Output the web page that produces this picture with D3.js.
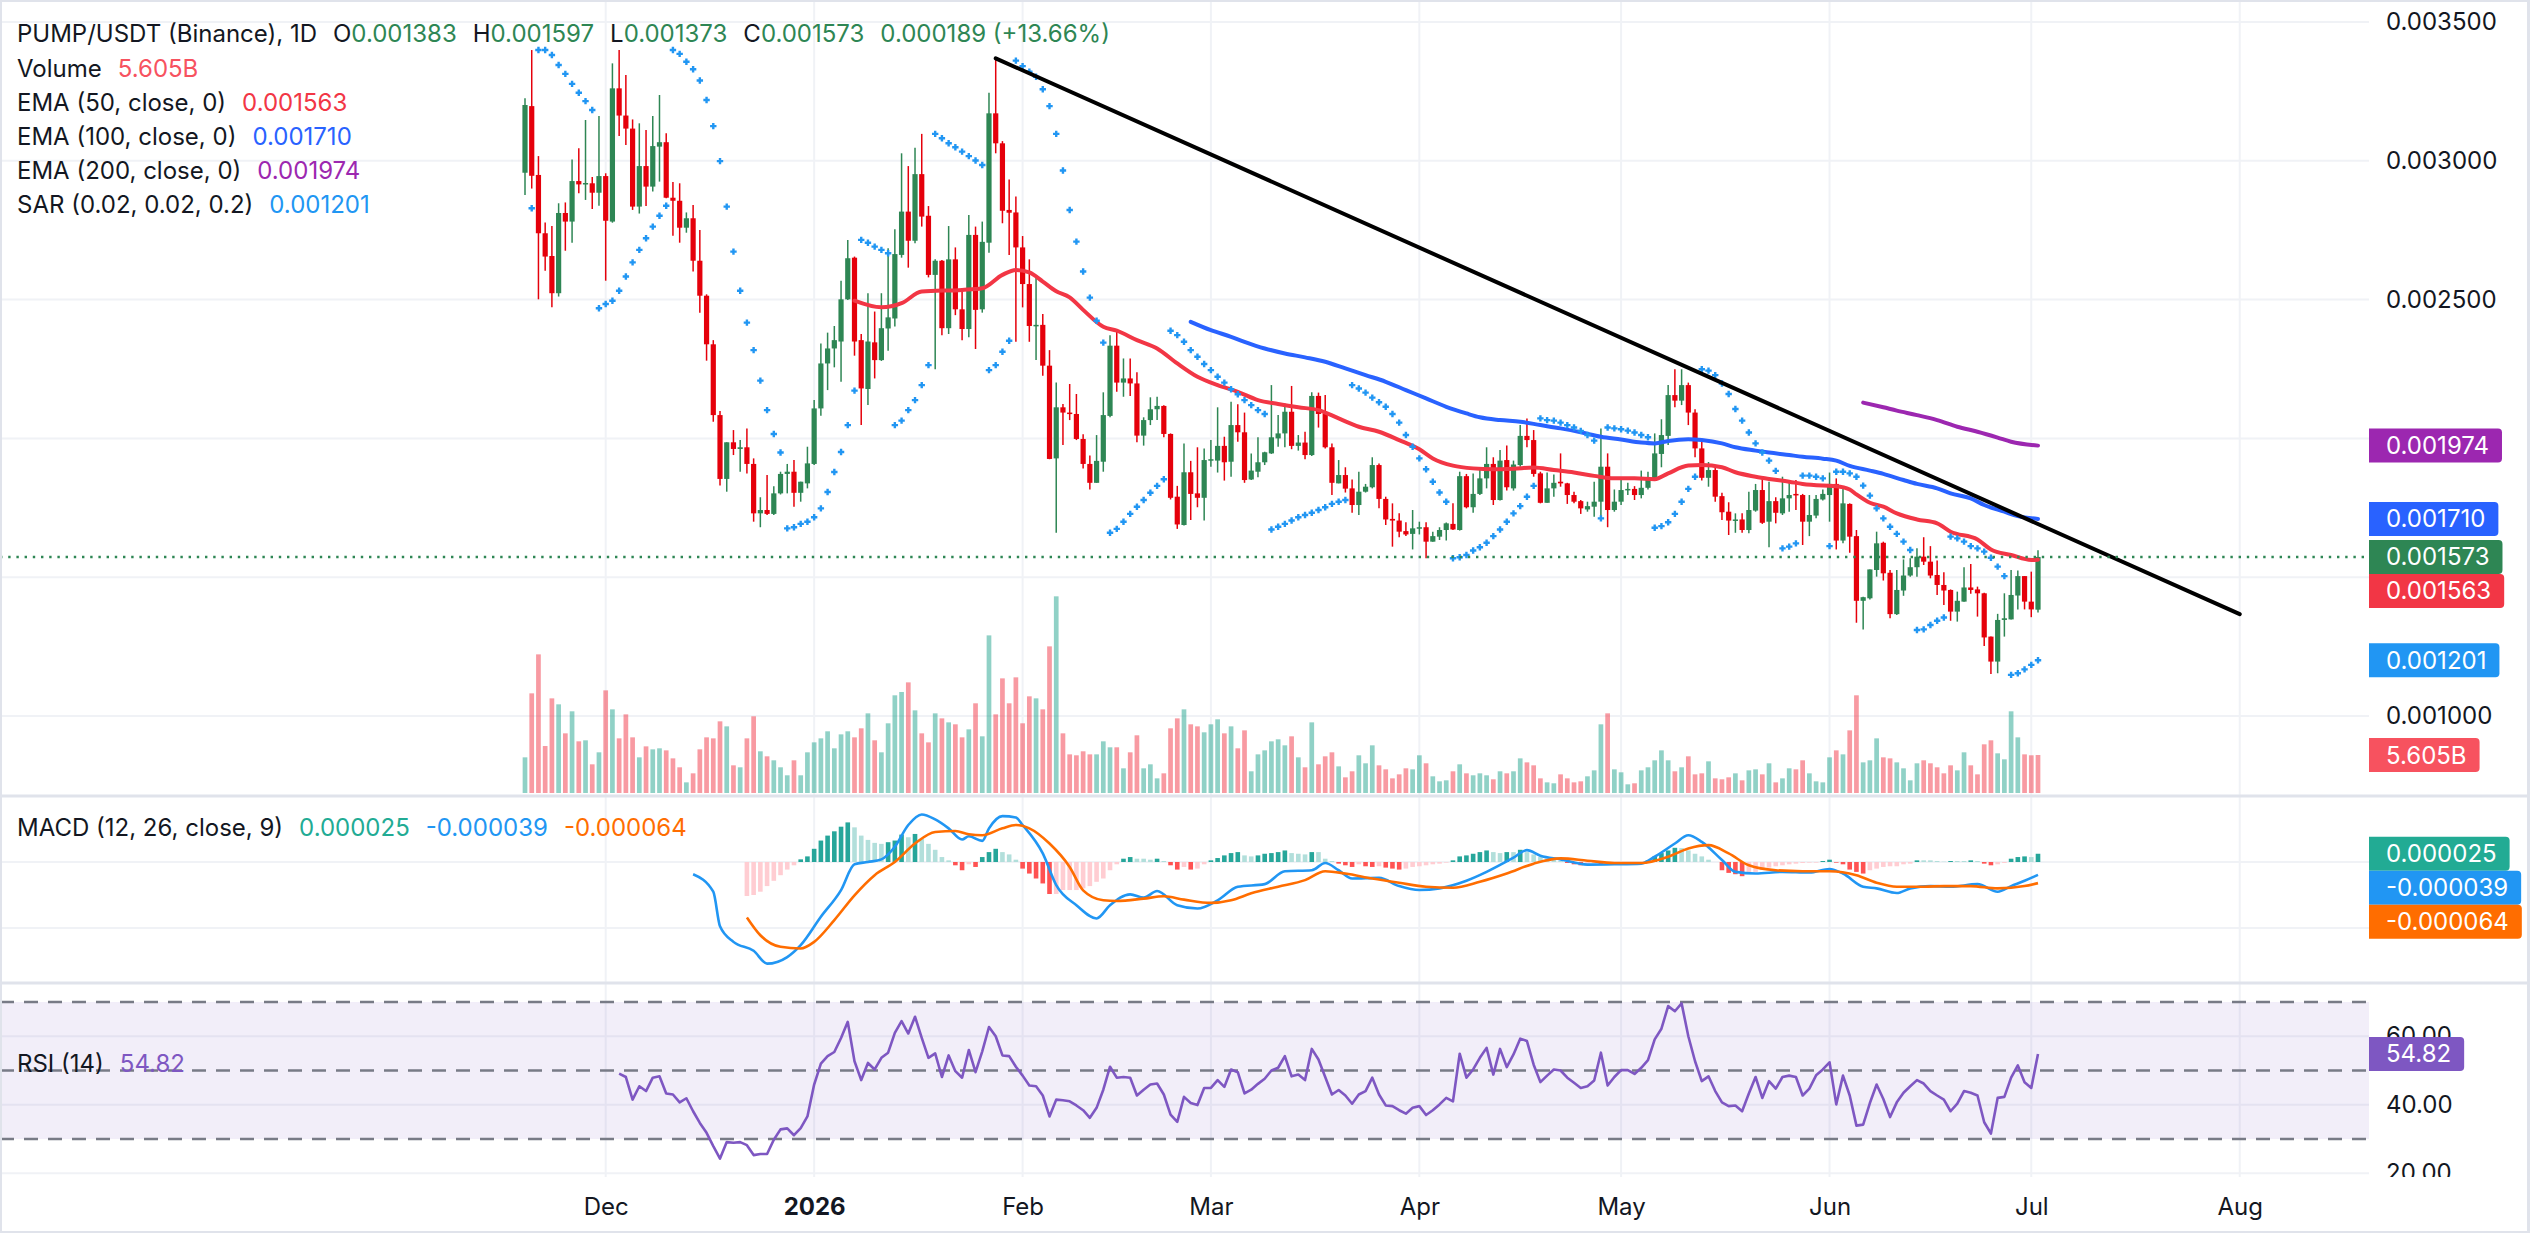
<!DOCTYPE html>
<html>
<head>
<meta charset="utf-8">
<script src="https://cdn.jsdelivr.net/npm/d3@7"></script>
<style>
  html, body { margin: 0; padding: 0; background: #ffffff; }
  svg { display: block; font-family: Inter, "Noto Sans", sans-serif; }
</style>
</head>
<body>
<svg id="chart" width="2530" height="1253"></svg>
<script>
// daily bars, first one on 2025-11-19
const startDay = Date.UTC(2025, 10, 19);
const day = i => new Date(startDay + i * 864e5);

// prices are in millionths of USDT
const opens = [2957,3197,2949,2739,2657,2523,2812,2781,2927,2915,2919,2885,2945,2781,3261,3163,3116,2835,2981,2907,
  3051,3067,2867,2856,2759,2793,2640,2514,2339,2084,1854,1986,1962,1968,1908,1730,1742,1728,1802,1872,
  1880,1804,1838,1908,2108,2270,2324,2349,2501,2651,2354,2178,2346,2282,2396,2432,2661,2817,2712,2952,
  2802,2589,2640,2397,2645,2465,2394,2733,2465,2705,3171,3063,2823,2814,2688,2556,2405,2409,2262,1928,
  2112,2093,2088,1998,1908,1840,1916,2081,2334,2201,2216,2198,2010,2066,2105,2117,2016,1790,1688,1878,
  1802,1786,1922,1920,1973,1916,2048,2022,1852,1880,1914,1946,2000,2018,2096,1973,1985,1940,2153,2088,
  1968,1838,1868,1820,1760,1808,1824,1904,1782,1710,1704,1666,1656,1676,1680,1628,1646,1670,1692,1670,
  1864,1752,1800,1856,1908,1778,1922,1820,1904,2009,1994,1874,1768,1820,1844,1838,1796,1774,1744,1754,
  1772,1898,1742,1772,1814,1818,1796,1822,1850,1944,2009,2156,2136,2192,2093,1964,1858,1886,1792,1736,
  1704,1708,1670,1740,1814,1700,1774,1730,1784,1800,1796,1700,1722,1780,1796,1836,1632,1764,1648,1415,
  1424,1526,1624,1516,1367,1452,1506,1536,1574,1556,1508,1472,1454,1376,1412,1463,1456,1442,1286,1196,
  1346,1348,1434,1504,1412,1383];
const highs = [3225,3399,3017,2778,2765,2847,2850,3005,3045,3147,2942,3161,2955,3351,3399,3309,3149,3135,3111,3161,
  3237,3099,2924,2919,2814,2841,2751,2519,2354,2099,1986,2030,1994,2036,1928,1788,1868,1828,1880,1908,
  1922,1844,1970,2138,2342,2381,2405,2568,2715,2655,2376,2523,2457,2523,2685,2753,3027,2981,3047,3097,
  2837,2645,2643,2765,2688,2541,2805,2763,2781,3245,3369,3071,2933,2871,2729,2645,2583,2448,2318,2201,
  2124,2196,2160,2015,1938,2012,2166,2372,2384,2288,2288,2238,2076,2148,2150,2119,2018,1829,1982,1919,
  1968,1964,1994,2112,2006,2132,2123,2093,1946,2004,1952,2192,2084,2126,2189,2012,2024,2166,2165,2156,
  1982,1922,1896,1852,1880,1836,1932,1910,1790,1766,1730,1698,1742,1700,1698,1664,1680,1697,1766,1880,
  1872,1874,1892,1968,1932,1958,1974,1920,2048,2072,2030,1880,1877,1870,1946,1840,1808,1778,1772,1844,
  2036,1946,1816,1856,1840,1828,1884,1880,2018,2069,2192,2249,2249,2201,2105,1990,1915,1904,1804,1770,
  1730,1730,1808,1836,1860,1844,1788,1862,1848,1850,1800,1796,1796,1816,1877,1856,1826,1766,1670,1430,
  1528,1664,1628,1526,1526,1564,1568,1604,1644,1612,1560,1518,1456,1448,1536,1548,1466,1444,1286,1368,
  1442,1526,1524,1504,1520,1597];
const lows = [2877,2900,2501,2604,2472,2511,2676,2705,2883,2859,2826,2838,2568,2777,3089,3057,2823,2810,2837,2889,
  2925,2865,2730,2705,2741,2601,2453,2280,2060,1830,1808,1940,1880,1874,1700,1680,1724,1724,1798,1802,
  1754,1772,1820,1904,2082,2174,2256,2204,2499,2298,2048,2120,2216,2279,2316,2403,2651,2615,2703,2763,
  2580,2249,2372,2376,2444,2354,2364,2322,2453,2669,3027,2775,2661,2348,2472,2348,2282,2226,1925,1660,
  1976,2066,1994,1892,1816,1840,1880,2076,2168,2150,2153,1986,1974,2048,2066,2004,1780,1674,1686,1706,
  1752,1704,1898,1877,1848,1862,1988,1840,1850,1860,1904,1944,1970,1968,1961,1956,1925,1937,2039,1964,
  1796,1838,1805,1732,1724,1805,1820,1748,1688,1610,1644,1648,1600,1654,1568,1628,1634,1632,1670,1668,
  1748,1732,1796,1820,1760,1776,1812,1812,1898,1968,1862,1766,1768,1790,1826,1764,1766,1728,1736,1718,
  1712,1680,1736,1760,1796,1778,1784,1816,1850,1896,1976,2112,2120,2048,1932,1848,1826,1772,1706,1652,
  1660,1660,1658,1736,1692,1608,1694,1724,1736,1742,1616,1648,1712,1776,1700,1600,1622,1588,1336,1312,
  1420,1502,1488,1352,1364,1433,1502,1502,1544,1496,1436,1400,1343,1340,1412,1440,1358,1252,1151,1154,
  1286,1348,1384,1384,1356,1373];
const closes = [3201,2946,2739,2655,2523,2812,2781,2927,2915,2920,2885,2945,2784,3261,3163,3116,2835,2981,2907,3053,
  3067,2867,2856,2759,2793,2640,2514,2339,2084,1854,1986,1962,1968,1908,1730,1742,1728,1802,1872,1880,
  1804,1844,1910,2108,2270,2324,2354,2501,2649,2349,2180,2349,2282,2397,2436,2664,2817,2712,2952,2799,
  2589,2640,2397,2645,2465,2394,2733,2463,2708,3171,3063,2820,2813,2688,2556,2405,2409,2262,1926,2112,
  2093,2088,1998,1908,1840,1919,2084,2334,2201,2216,2198,2010,2066,2105,2117,2016,1786,1690,1878,1800,
  1786,1922,1925,1973,1914,2048,2022,1850,1884,1914,1950,2004,2018,2096,1973,1985,1940,2153,2088,1968,
  1840,1868,1819,1760,1808,1826,1904,1782,1708,1704,1664,1654,1676,1680,1628,1648,1670,1694,1672,1864,
  1752,1800,1856,1908,1778,1920,1824,1906,2009,1994,1872,1768,1820,1840,1838,1796,1772,1748,1756,1772,
  1898,1742,1772,1814,1818,1796,1822,1854,1946,2012,2156,2136,2192,2093,1964,1858,1886,1790,1734,1704,
  1708,1670,1742,1814,1696,1774,1732,1784,1796,1796,1700,1724,1782,1800,1836,1632,1766,1646,1415,1428,
  1528,1622,1514,1367,1454,1506,1536,1574,1556,1506,1472,1452,1376,1415,1463,1454,1442,1283,1196,1346,
  1352,1436,1504,1412,1384,1573];

// volume in billions of PUMP
const volumes = [5.26,14.70,20.45,6.93,13.96,13.08,8.80,12.05,7.62,7.77,
  4.23,6.00,15.14,12.34,8.06,11.60,8.21,5.26,6.88,6.44,
  6.59,6.29,5.11,3.79,1.57,2.90,6.44,8.21,8.06,10.57,
  9.83,4.08,3.79,8.06,11.31,6.15,5.41,4.82,3.79,2.61,
  4.82,2.61,6.00,7.47,8.06,9.10,6.59,8.65,9.10,8.21,
  9.54,11.75,7.77,6.00,10.28,14.41,14.90,16.32,12.19,8.80,
  7.47,11.75,11.01,10.42,10.13,8.21,9.39,13.23,8.36,23.25,
  11.60,16.91,13.23,17.06,10.28,14.26,13.96,12.34,21.63,29.01,
  8.80,5.70,5.56,6.15,5.70,5.70,7.62,6.74,6.74,3.64,
  6.00,8.51,3.64,4.23,2.16,2.90,9.54,11.01,12.34,10.13,
  9.83,8.95,10.13,10.87,8.80,9.83,6.59,9.24,3.20,5.70,
  6.29,7.62,7.92,7.03,8.36,5.26,3.79,10.42,4.23,5.41,
  6.00,3.93,2.31,3.20,5.56,4.38,7.03,4.08,3.49,2.16,
  2.75,3.64,3.49,5.56,4.38,2.46,1.72,1.87,3.20,4.23,
  2.90,2.61,2.90,2.61,2.02,3.20,2.90,3.20,5.11,4.52,
  4.08,2.16,1.57,1.43,2.75,2.16,1.57,1.72,2.46,3.34,
  10.13,11.75,3.49,3.05,1.28,1.43,3.34,3.79,4.82,6.29,
  4.82,3.20,3.79,5.41,2.75,2.90,4.67,2.16,2.02,2.31,
  2.90,1.87,3.34,3.49,2.75,4.38,1.57,2.16,3.64,3.49,
  4.82,2.90,1.72,1.57,5.26,6.29,5.70,9.24,14.41,4.52,
  4.82,8.06,5.26,5.11,4.52,3.64,1.87,4.38,4.82,4.38,
  3.79,2.90,4.08,3.34,6.00,4.08,2.75,7.18,7.77,5.85,
  4.97,12.05,8.21,5.70,5.56,5.605];
// bars whose volume is shown in the down colour although the candle closed up
const volumeDownOverride = [225];

// parabolic SAR (0.02, 0.02, 0.2), millionths
const sar = [null,2829,3399,3399,3381,3345,3313,3277,3245,3215,3183,2469,2484,2496,2532,2583,2634,2679,2721,2763,
  2802,2838,3399,3385,3357,3330,3289,3219,3125,2999,2835,2673,2532,2417,2318,2208,2102,2016,1949,1676,
  1680,1692,1700,1716,1748,1807,1879,1951,2048,2172,2715,2705,2691,2679,2667,2048,2064,2102,2138,2192,
  2264,3097,3081,3063,3049,3033,3017,3001,2985,2246,2264,2312,2352,3361,3341,3321,3303,3258,3197,3097,
  2965,2823,2709,2601,2507,2424,2345,1660,1674,1700,1728,1754,1778,1804,1829,1853,2388,2372,2348,2318,
  2294,2268,2246,2222,2201,2177,2159,2138,2120,2102,2088,1672,1682,1692,1704,1716,1724,1732,1742,1752,
  1764,1772,1778,2192,2180,2165,2147,2130,2114,2088,2057,2012,1970,1928,1889,1844,1805,1772,1568,1572,
  1580,1596,1608,1624,1648,1672,1700,1730,1756,1790,1829,2072,2066,2064,2057,2048,2039,2027,2012,1992,
  1712,2039,2036,2033,2028,2021,2012,2004,1678,1684,1698,1728,1772,1818,1862,2249,2244,2228,2198,2160,
  2106,2064,2021,1982,1949,1920,1883,1604,1610,1622,1866,1866,1862,1856,1612,1880,1880,1874,1862,1830,
  1794,1748,1712,1682,1656,1628,1598,1310,1312,1328,1343,1355,1646,1640,1628,1612,1604,1592,1570,1538,
  1504,1148,1154,1168,1184,1201];

// moving averages: [bar, value in millionths]
const ema50 = [[49,2496],[53,2472],[56,2487],[59,2529],[65,2535],[68,2541],[71,2589],[73,2607],[75,2598],[77,2565],
  [79,2530],[81,2508],[83,2463],[86,2402],[88,2388],[91,2354],[94,2324],[97,2270],[100,2222],[103,2192],
  [106,2168],[109,2138],[112,2124],[115,2112],[118,2102],[121,2072],[124,2042],[127,2024],[130,1994],[133,1961],
  [135,1928],[138,1902],[141,1892],[144,1889],[147,1891],[150,1895],[153,1886],[156,1877],[159,1865],[162,1856],
  [165,1856],[168,1853],[170,1874],[173,1902],[175,1904],[178,1896],[180,1878],[183,1862],[185,1854],[188,1844],
  [190,1836],[193,1830],[195,1828],[197,1816],[198,1798],[200,1768],[202,1754],[204,1730],[207,1708],[210,1694],
  [212,1664],[216,1636],[218,1600],[221,1580],[224,1562],[225,1563]];
const ema100 = [[99,2420],[102,2390],[105,2366],[107,2348],[110,2324],[113,2306],[116,2292],[119,2276],[122,2252],[125,2228],
  [128,2204],[131,2174],[134,2144],[137,2114],[140,2090],[142,2076],[145,2066],[148,2060],[151,2048],[154,2036],
  [157,2022],[160,2006],[163,1996],[166,1985],[168,1982],[170,1991],[173,1997],[175,1994],[178,1982],[180,1968],
  [183,1956],[185,1949],[188,1940],[190,1934],[193,1927],[195,1920],[197,1901],[200,1884],[202,1872],[205,1850],
  [207,1836],[210,1820],[212,1802],[215,1784],[217,1760],[220,1736],[222,1720],[225,1710]];
const ema200 = [[199,2129],[202,2112],[204,2100],[207,2084],[210,2066],[213,2042],[216,2024],[219,2003],[221,1988],[225,1974]];

// drawn trend line through the January high: [bar, price]
const trendLine = [[70, 3369], [255, 1367]];

// MACD (12, 26, close, 9), millionths
const macdLine = [[25,-37],[28,-90],[29,-195],[31,-242],[34,-269],[36,-308],[39,-288],[41,-252],[44,-166],[47,-85],
  [49,-7],[51,0],[53,8],[55,46],[57,112],[59,144],[61,129],[63,102],[65,68],[66,78],
  [68,64],[69,102],[71,139],[73,135],[74,112],[77,26],[79,-70],[82,-131],[85,-171],[87,-131],
  [90,-98],[92,-108],[94,-88],[97,-131],[100,-141],[103,-116],[106,-75],[110,-67],[113,-28],[117,-25],
  [119,-3],[121,-25],[123,-50],[127,-48],[130,-73],[133,-85],[136,-80],[140,-57],[143,-30],[147,13],
  [149,36],[151,19],[154,8],[158,-8],[162,-7],[166,-5],[168,16],[171,56],[173,81],[175,61],
  [178,6],[180,-30],[183,-35],[187,-30],[191,-32],[194,-21],[196,-35],[199,-75],[201,-80],[204,-94],
  [206,-80],[209,-73],[212,-75],[216,-67],[219,-90],[221,-73],[223,-57],[225,-39]];
const signalLine = [[33,-168],[35,-222],[38,-257],[41,-262],[43,-242],[46,-176],[49,-101],[52,-40],[55,0],[58,56],
  [61,91],[64,94],[66,84],[68,81],[71,102],[73,112],[75,102],[78,56],[81,-15],[83,-86],
  [86,-116],[88,-118],[92,-111],[95,-104],[98,-114],[102,-124],[105,-116],[108,-95],[112,-75],[116,-55],
  [119,-28],[122,-35],[126,-50],[130,-63],[134,-75],[138,-78],[142,-60],[146,-35],[150,-5],[154,11],
  [158,4],[162,-3],[166,-3],[170,16],[173,41],[176,51],[179,26],[182,-10],[186,-25],[190,-28],
  [194,-28],[198,-40],[201,-63],[204,-75],[208,-75],[211,-73],[215,-73],[219,-80],[223,-73],[225,-64]];
const histStart = 33;
const histogram = [-103,-100,-90,-73,-57,-40,-23,-10,8,17,
  40,65,80,93,107,120,105,80,67,58,
  55,60,65,83,75,85,70,55,37,15,
  5,-10,-25,-7,-15,15,30,40,30,23,
  7,-20,-35,-50,-65,-97,-97,-85,-85,-85,
  -80,-73,-60,-50,-25,-7,10,15,10,10,
  7,10,3,-10,-23,-15,-23,-20,-7,5,
  12,20,27,30,20,17,20,25,27,30,
  35,27,25,23,30,30,10,3,-5,-10,
  -15,-7,-13,-15,-13,-17,-20,-23,-20,-15,
  -13,-10,-7,-5,-2,5,17,20,25,30,
  35,30,27,30,30,37,30,23,15,10,
  7,3,-3,-7,-10,-5,-3,-7,-5,-7,
  -6,-6,-5,-5,5,17,27,35,43,42,
  35,25,17,7,0,-25,-33,-37,-43,-35,
  -30,-23,-17,-13,-10,-7,-5,-3,-2,-2,
  3,7,-2,-7,-23,-30,-35,-25,-20,-15,
  -13,-13,-7,-5,5,5,5,3,1,3,
  3,3,5,3,-5,-10,-7,-3,10,15,
  17,15,25];

// RSI (14)
const rsiStart = 14;
const rsi = [49.1,48.1,41.5,45.4,44.0,47.9,48.3,43.3,43.0,40.7,
  41.9,38.1,34.7,31.8,27.9,24.3,29.1,28.9,29.1,28.2,
  25.3,25.6,25.6,29.8,32.8,33.1,31.1,33.2,36.6,45.9,
  52.0,54.2,55.4,59.5,64.2,52.7,47.2,52.2,50.3,53.7,
  55.2,61.0,64.4,60.8,65.7,59.5,53.7,55.0,48.1,54.4,
  49.8,47.9,56.0,49.5,55.6,62.7,60.0,54.4,54.2,51.1,
  48.5,45.6,45.4,42.7,36.6,41.5,41.3,41.0,39.8,38.4,
  36.2,39.1,44.4,51.1,47.9,48.1,47.9,42.7,44.4,45.9,
  46.2,43.0,37.1,35.0,42.3,40.5,39.9,44.9,44.9,47.2,
  45.2,50.3,49.5,43.3,44.4,46.1,47.6,50.0,50.8,54.2,
  48.3,48.8,47.2,56.3,53.2,48.1,43.0,44.3,42.7,40.3,
  43.0,44.0,47.9,43.0,39.8,39.6,38.4,37.4,39.1,39.6,
  37.0,38.4,40.1,42.0,41.0,54.9,47.9,50.3,53.7,56.6,
  48.8,56.3,51.0,54.7,59.3,58.6,51.7,46.6,48.5,50.3,
  50.0,47.9,46.4,44.9,45.4,47.1,55.2,45.6,48.1,50.1,
  50.1,49.0,50.8,53.0,59.1,62.2,68.8,67.3,69.6,60.0,
  52.7,46.9,48.3,44.0,40.7,39.6,39.8,38.1,43.3,48.1,
  42.0,46.9,44.7,48.1,48.5,48.1,42.7,44.7,48.6,50.3,
  52.4,40.1,48.5,42.7,33.9,34.2,40.5,45.9,41.7,36.4,
  40.7,43.5,45.4,47.2,46.2,44.0,42.7,41.5,38.1,40.3,
  44.0,43.5,42.7,34.9,31.6,42.0,42.3,47.9,51.5,46.6,
  44.9,54.82];

const priceTicks = [1000, 1500, 2000, 2500, 3000, 3500];
const macdTicks = [-200, 0];
const rsiTicks = [20, 40, 60];
const rsiLevels = [70, 50, 30];
const monthTicks = ["2025-12-01","2026-01-01","2026-02-01","2026-03-01","2026-04-01","2026-05-01","2026-06-01","2026-07-01","2026-08-01"];

// ---------------------------------------------------------------------------
const W = 2530, H = 1253, axisX = 2369;
const panes = { main: [0, 795], macd: [797, 982], rsi: [984, 1177] };
const last = closes.length - 1;

const col = {
  up: "#2e8654", down: "#e5000b",
  volUp: "rgba(8,153,129,0.45)", volDown: "rgba(242,54,69,0.5)", volLabel: "#f7525f",
  grid: "#f0f2f6", border: "#e0e3eb", text: "#131722",
  ema50: "#f23645", ema100: "#2962ff", ema200: "#9c27b0", sar: "#2196f3",
  macd: "#2196f3", signal: "#ff6d00", histLabel: "#22ab94",
  histUp: "#26a69a", histUpFade: "#b2dfdb", histDn: "#ff5252", histDnFade: "#ffcdd2",
  rsi: "#7e57c2", rsiLevel: "#787b86"
};

const x = d3.scaleUtc().domain([day(0), day(225)]).range([525, 2038]);
const yP = d3.scaleLinear().domain([1000, 3500]).range([716, 22]);
const yV = d3.scaleLinear().domain([0, 29]).range([793, 596.4]);
const yM = d3.scaleLinear().domain([-200, 0]).range([928, 862]);
const yR = d3.scaleLinear().domain([30, 70]).range([1139, 1002]);
const xi = i => x(day(i));
const fmtP = v => (v / 1e6).toFixed(6);

const svg = d3.select("#chart");
svg.append("rect").attr("width", W).attr("height", H).attr("fill", "#ffffff");

const defs = svg.append("defs");
Object.entries(panes).forEach(([k, [t, b]]) => {
  defs.append("clipPath").attr("id", "clip-" + k)
    .append("rect").attr("x", 0).attr("y", t).attr("width", axisX).attr("height", b - t);
  defs.append("clipPath").attr("id", "axclip-" + k)
    .append("rect").attr("x", axisX).attr("y", t).attr("width", W - axisX).attr("height", b - t);
});

// grid
const grid = svg.append("g");
const months = monthTicks.map(s => new Date(s + "T00:00:00Z"));
Object.values(panes).forEach(([t, b]) => {
  grid.selectAll(null).data(months).enter().append("line")
    .attr("x1", d => x(d)).attr("x2", d => x(d)).attr("y1", t).attr("y2", b)
    .attr("stroke", col.grid).attr("stroke-width", 2);
});
const hGrid = (ticks, scale) => grid.selectAll(null).data(ticks).enter().append("line")
  .attr("x1", 0).attr("x2", axisX).attr("y1", d => scale(d)).attr("y2", d => scale(d))
  .attr("stroke", col.grid).attr("stroke-width", 2);
hGrid(priceTicks, yP); hGrid(macdTicks, yM); hGrid(rsiTicks, yR);

// ---------------- main pane
const main = svg.append("g").attr("clip-path", "url(#clip-main)");

main.selectAll(".vol").data(volumes).enter().append("rect")
  .attr("x", (d, i) => xi(i) - 2.35).attr("width", 4.7)
  .attr("y", d => yV(d)).attr("height", d => yV(0) - yV(d))
  .attr("fill", (d, i) => closes[i] >= opens[i] && !volumeDownOverride.includes(i) ? col.volUp : col.volDown);

const candles = d3.range(closes.length).map(i => ({ i, o: opens[i], h: highs[i], l: lows[i], c: closes[i] }));
const cg = main.selectAll(".candle").data(candles).enter().append("g");
cg.append("line")
  .attr("x1", d => xi(d.i)).attr("x2", d => xi(d.i))
  .attr("y1", d => yP(d.h)).attr("y2", d => yP(d.l))
  .attr("stroke", d => d.c >= d.o ? col.up : col.down).attr("stroke-width", 1.5);
cg.append("rect")
  .attr("x", d => xi(d.i) - 2.6).attr("width", 5.2)
  .attr("y", d => yP(Math.max(d.o, d.c)))
  .attr("height", d => Math.max(1.5, Math.abs(yP(d.o) - yP(d.c))))
  .attr("fill", d => d.c >= d.o ? col.up : col.down);

const emaLine = d3.line().x(d => xi(d[0])).y(d => yP(d[1])).curve(d3.curveMonotoneX);
[[ema50, col.ema50], [ema100, col.ema100], [ema200, col.ema200]].forEach(([data, c]) => {
  main.append("path").attr("d", emaLine(data)).attr("fill", "none")
    .attr("stroke", c).attr("stroke-width", 4).attr("stroke-linecap", "round").attr("stroke-linejoin", "round");
});

main.selectAll(".sar").data(sar.map((v, i) => [i, v]).filter(d => d[1] != null)).enter().append("path")
  .attr("transform", d => `translate(${xi(d[0])},${yP(d[1])})`)
  .attr("d", "M-3.2,0H3.2M0,-3.2V3.2")
  .attr("stroke", col.sar).attr("stroke-width", 2.4);

main.append("line")
  .attr("x1", xi(trendLine[0][0])).attr("y1", yP(trendLine[0][1]))
  .attr("x2", xi(trendLine[1][0])).attr("y2", yP(trendLine[1][1]))
  .attr("stroke", "#000000").attr("stroke-width", 4).attr("stroke-linecap", "round");

main.append("line")
  .attr("x1", 0).attr("x2", axisX).attr("y1", yP(closes[last])).attr("y2", yP(closes[last]))
  .attr("stroke", col.up).attr("stroke-width", 2.4).attr("stroke-dasharray", "2.4,5.8");

// ---------------- MACD pane
const macdG = svg.append("g").attr("clip-path", "url(#clip-macd)");
macdG.selectAll(".hist").data(histogram).enter().append("rect")
  .attr("x", (d, k) => xi(histStart + k) - 2.3).attr("width", 4.6)
  .attr("y", d => Math.min(yM(d), yM(0))).attr("height", d => Math.abs(yM(d) - yM(0)))
  .attr("fill", (d, k) => {
    const prev = k > 0 ? histogram[k - 1] : d;
    if (d >= 0) return d > prev ? col.histUp : col.histUpFade;
    return d < prev ? col.histDn : col.histDnFade;
  });
const mLine = d3.line().x(d => xi(d[0])).y(d => yM(d[1])).curve(d3.curveMonotoneX);
macdG.append("path").attr("d", mLine(macdLine)).attr("fill", "none").attr("stroke", col.macd).attr("stroke-width", 2.6);
macdG.append("path").attr("d", mLine(signalLine)).attr("fill", "none").attr("stroke", col.signal).attr("stroke-width", 2.6);

// ---------------- RSI pane
const rsiG = svg.append("g").attr("clip-path", "url(#clip-rsi)");
rsiG.append("rect").attr("x", 0).attr("width", axisX)
  .attr("y", yR(rsiLevels[0])).attr("height", yR(rsiLevels[2]) - yR(rsiLevels[0]))
  .attr("fill", "rgba(126,87,194,0.1)");
rsiG.selectAll(".lvl").data(rsiLevels).enter().append("line")
  .attr("x1", 0).attr("x2", axisX).attr("y1", d => yR(d)).attr("y2", d => yR(d))
  .attr("stroke", col.rsiLevel).attr("stroke-width", 2.4).attr("stroke-dasharray", "14,10");
rsiG.append("path")
  .attr("d", d3.line().x((d, k) => xi(rsiStart + k)).y(d => yR(d))(rsi))
  .attr("fill", "none").attr("stroke", col.rsi).attr("stroke-width", 2.6).attr("stroke-linejoin", "round");

// ---------------- axes
const styleAxis = g => {
  g.select(".domain").remove();
  g.selectAll("text").attr("fill", col.text).style("font-size", "24px").style("font-family", "Inter, 'Noto Sans', sans-serif");
};
// the clip lives on an outer group so it is in page coordinates
const priceAxis = (pane, axis) => svg.append("g").attr("clip-path", `url(#axclip-${pane})`)
  .append("g").attr("transform", `translate(${axisX},0)`).call(axis).call(styleAxis);
const axMain = priceAxis("main", d3.axisRight(yP).tickValues(priceTicks).tickFormat(fmtP).tickSize(0).tickPadding(17));
const axMacd = priceAxis("macd", d3.axisRight(yM).tickValues(macdTicks).tickFormat(fmtP).tickSize(0).tickPadding(17));
const axRsi = priceAxis("rsi", d3.axisRight(yR).tickValues(rsiTicks).tickFormat(d => d.toFixed(2)).tickSize(0).tickPadding(17));

const timeAxis = svg.append("g").attr("transform", `translate(0,${panes.rsi[1]})`)
  .call(d3.axisBottom(x).tickValues(months)
    .tickFormat(d => d.getUTCMonth() === 0 ? String(d.getUTCFullYear()) : d3.utcFormat("%b")(d))
    .tickSize(0).tickPadding(21))
  .call(styleAxis);
timeAxis.selectAll("text").style("font-weight", d => d.getUTCMonth() === 0 ? 700 : 400);

// ---------------- value boxes on the price scale
function valueBoxes(items) {
  const boxH = 34;
  items.sort((a, b) => a.y - b.y);
  let prev = -Infinity;
  items.forEach(it => { it.cy = Math.max(it.y, prev + boxH); prev = it.cy; });
  const g = svg.append("g");
  items.forEach(it => {
    const t = g.append("text").attr("x", axisX + 17).attr("y", it.cy + 8.5)
      .attr("fill", "#ffffff").style("font-size", "24px").text(it.label);
    const w = t.node().getComputedTextLength();
    g.insert("path", "text")
      .attr("d", `M${axisX},${it.cy - boxH / 2}h${w + 26}a4,4 0 0 1 4,4v${boxH - 8}a4,4 0 0 1 -4,4h${-(w + 26)}z`)
      .attr("fill", it.color);
  });
  return items.map(it => it.cy);
}
// tick labels that sit under a value box are hidden, as on the original scale
const hideCovered = (axisG, scale, centers) => axisG.selectAll(".tick")
  .filter(d => centers.some(c => Math.abs(scale(d) - c) < 14)).remove();

const lastOf = arr => arr[arr.length - 1][1];
hideCovered(axMain, yP, valueBoxes([
  { y: yP(lastOf(ema200)), label: fmtP(lastOf(ema200)), color: col.ema200 },
  { y: yP(lastOf(ema100)), label: fmtP(lastOf(ema100)), color: col.ema100 },
  { y: yP(closes[last]), label: fmtP(closes[last]), color: col.up },
  { y: yP(lastOf(ema50)), label: fmtP(lastOf(ema50)), color: col.ema50 },
  { y: yP(sar[last]), label: fmtP(sar[last]), color: col.sar },
  { y: yV(volumes[last]), label: volumes[last].toFixed(3) + "B", color: col.volLabel }
]));
hideCovered(axMacd, yM, valueBoxes([
  { y: yM(histogram[histogram.length - 1]), label: fmtP(histogram[histogram.length - 1]), color: col.histLabel },
  { y: yM(lastOf(macdLine)), label: fmtP(lastOf(macdLine)), color: col.macd },
  { y: yM(lastOf(signalLine)), label: fmtP(lastOf(signalLine)), color: col.signal }
]));
hideCovered(axRsi, yR, valueBoxes([{ y: yR(rsi[rsi.length - 1]), label: rsi[rsi.length - 1].toFixed(2), color: col.rsi }]));

// ---------------- legends
function legend(y, parts) {
  const t = svg.append("text").attr("x", 17).attr("y", y).style("font-size", "24px").attr("fill", col.text);
  parts.forEach(([s, c, dx]) => t.append("tspan").attr("dx", dx || 0).attr("fill", c || col.text).text(s));
}
const chg = closes[last] - closes[last - 1];
legend(42, [
  ["PUMP/USDT (Binance), 1D"],
  ["O", null, 16], [fmtP(opens[last]), col.up],
  ["H", null, 16], [fmtP(highs[last]), col.up],
  ["L", null, 16], [fmtP(lows[last]), col.up],
  ["C", null, 16], [fmtP(closes[last]), col.up],
  [`${fmtP(chg)} (+${(chg / closes[last - 1] * 100).toFixed(2)}%)`, col.up, 16]
]);
legend(77, [["Volume"], [volumes[last].toFixed(3) + "B", col.volLabel, 16]]);
legend(111, [["EMA (50, close, 0)"], [fmtP(lastOf(ema50)), col.ema50, 16]]);
legend(145, [["EMA (100, close, 0)"], [fmtP(lastOf(ema100)), col.ema100, 16]]);
legend(179, [["EMA (200, close, 0)"], [fmtP(lastOf(ema200)), col.ema200, 16]]);
legend(213, [["SAR (0.02, 0.02, 0.2)"], [fmtP(sar[last]), col.sar, 16]]);
legend(836, [["MACD (12, 26, close, 9)"],
  [fmtP(histogram[histogram.length - 1]), col.histLabel, 16],
  [fmtP(lastOf(macdLine)), col.macd, 16],
  [fmtP(lastOf(signalLine)), col.signal, 16]]);
legend(1072, [["RSI (14)"], [rsi[rsi.length - 1].toFixed(2), col.rsi, 16]]);

// ---------------- frame and pane separators
const frame = svg.append("g").attr("stroke", col.border).attr("fill", "none");
frame.append("line").attr("x1", 0).attr("x2", W).attr("y1", 796).attr("y2", 796).attr("stroke-width", 3);
frame.append("line").attr("x1", 0).attr("x2", W).attr("y1", 983).attr("y2", 983).attr("stroke-width", 3);
frame.append("line").attr("x1", 0).attr("x2", W).attr("y1", 1).attr("y2", 1).attr("stroke-width", 2);
frame.append("line").attr("x1", 0).attr("x2", W).attr("y1", 1232).attr("y2", 1232).attr("stroke-width", 2);
frame.append("line").attr("x1", 1).attr("x2", 1).attr("y1", 0).attr("y2", 1232).attr("stroke-width", 2);
frame.append("line").attr("x1", W - 1.5).attr("x2", W - 1.5).attr("y1", 0).attr("y2", 1232).attr("stroke-width", 3);
</script>
</body>
</html>
